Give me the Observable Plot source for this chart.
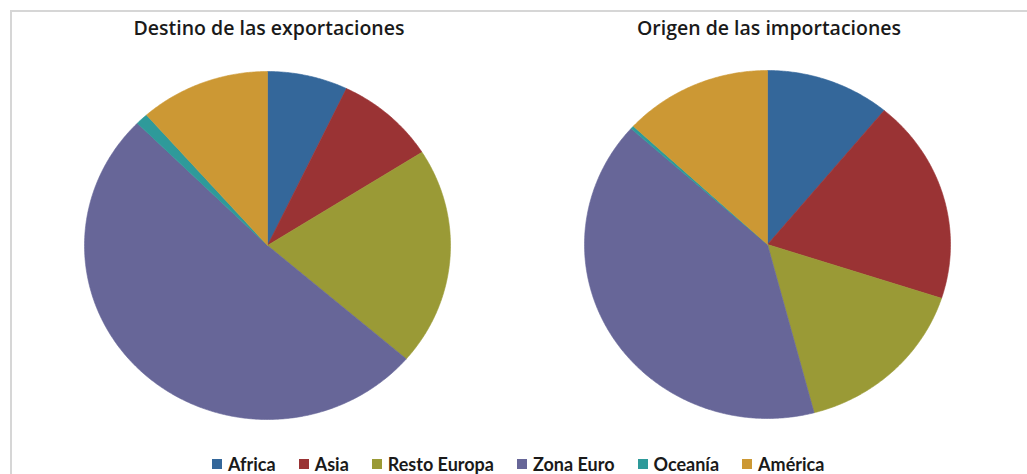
<!DOCTYPE html>
<html>
<head>
<meta charset="utf-8">
<script src="https://cdn.jsdelivr.net/npm/d3@7"></script>
<script src="https://cdn.jsdelivr.net/npm/@observablehq/plot@0.6"></script>
<style>
  html, body { margin: 0; padding: 0; background: #fff; }
  #root { position: relative; width: 1027px; height: 474px; overflow: hidden; font-family: Lato, "Noto Sans", sans-serif; }
  #frame { position: absolute; left: 10px; top: 10px; width: 1100px; height: 600px; border: 2px solid #d6d6d6; box-sizing: border-box; }
  .title { position: absolute; top: 14px; width: 400px; text-align: center; font-family: "Open Sans", Lato, sans-serif; font-size: 19.5px; font-weight: 600; color: #1a1a1a; white-space: nowrap; }
  .pie { position: absolute; }
  #legend { position: absolute; top: 453px; left: 212px; display: flex; align-items: center; font-size: 18px; font-weight: bold; color: #1a1a1a; white-space: nowrap; }
  .item { display: flex; align-items: center; margin-right: 23px; }
  .sw { width: 10px; height: 10px; margin-right: 6px; }
</style>
</head>
<body>
<div id="root">
  <div id="frame"></div>
</div>
<script>
// ---- data ----
const categories = ["Africa", "Asia", "Resto Europa", "Zona Euro", "Oceanía", "América"];
const exportShares = [7.1, 8.9, 20.3, 51.1, 1.1, 11.5];   // Destino de las exportaciones (%)
const importShares = [11.0, 19.0, 15.9, 40.7, 0.3, 13.1]; // Origen de las importaciones (%)
const colors = ["#34679a", "#9a3334", "#9a9a36", "#676698", "#2e9a9a", "#cc9834"];
const titles = ["Destino de las exportaciones", "Origen de las importaciones"];

// ---- layout ----
const root = document.getElementById("root");
const pies = [
  {values: exportShares, title: titles[0], cx: 266.5, cy: 245},
  {values: importShares, title: titles[1], cx: 766.5, cy: 244}
];
const RX = 183, RY = 174, W = 420, H = 380;

function slicePoints(values) {
  const arcs = d3.pie().sort(null).value(d => d.v)(categories.map((c, i) => ({cat: c, v: values[i]})));
  const pts = [];
  for (const a of arcs) {
    const cat = a.data.cat;
    pts.push({cat, x: 0, y: 0});
    const n = Math.max(2, Math.ceil((a.endAngle - a.startAngle) / (Math.PI / 360)) + 1);
    for (let k = 0; k < n; k++) {
      const t = a.startAngle + (a.endAngle - a.startAngle) * k / (n - 1);
      pts.push({cat, x: Math.sin(t), y: Math.cos(t)});
    }
    pts.push({cat, x: 0, y: 0});
  }
  return pts;
}

for (const p of pies) {
  const t = document.createElement("div");
  t.className = "title";
  t.textContent = p.title;
  t.style.left = (p.cx + 2.5 - 200) + "px";
  root.appendChild(t);

  const chart = Plot.plot({
    width: W, height: H, margin: 0,
    x: {domain: [-1, 1], range: [W / 2 - RX, W / 2 + RX], axis: null},
    y: {domain: [-1, 1], range: [H / 2 + RY, H / 2 - RY], axis: null},
    color: {domain: categories, range: colors},
    marks: [
      Plot.line(slicePoints(p.values), {x: "x", y: "y", z: "cat", fill: "cat", stroke: "cat", strokeWidth: 0.6, curve: "linear"})
    ]
  });
  chart.classList.add("pie");
  chart.style.left = (p.cx - W / 2) + "px";
  chart.style.top = (p.cy - H / 2) + "px";
  root.appendChild(chart);
}

// ---- legend ----
const legend = document.createElement("div");
legend.id = "legend";
categories.forEach((c, i) => {
  const item = document.createElement("div");
  item.className = "item";
  const sw = document.createElement("div");
  sw.className = "sw";
  sw.style.background = colors[i];
  const lab = document.createElement("span");
  lab.textContent = c;
  item.appendChild(sw);
  item.appendChild(lab);
  legend.appendChild(item);
});
root.appendChild(legend);
</script>
</body>
</html>
